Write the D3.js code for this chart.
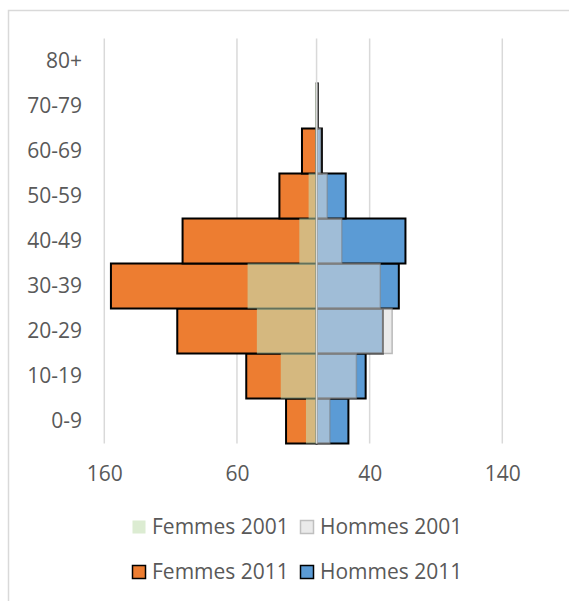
<!DOCTYPE html>
<html><head><meta charset="utf-8">
<script src="https://cdn.jsdelivr.net/npm/d3@7"></script>
<style>
html,body{margin:0;padding:0;background:#fff;}
svg{display:block;}
text{font-family:"Open Sans",sans-serif;fill:#595959;}
</style></head>
<body>
<svg id="chart" width="569" height="601"></svg>
<script>
const categories = ["0-9","10-19","20-29","30-39","40-49","50-59","60-69","70-79","80+"];
const femmes2011 = [23, 53, 105, 155, 101, 28, 11, 0, 0];
const femmes2001 = [8, 27, 45, 52, 13, 6, 1, 1, 0];
const hommes2011 = [24, 37, 50, 62, 67, 22, 4, 1, 0];
const hommes2001 = [10, 30, 57, 48, 19, 8, 3, 1, 0];
const tickValues = [-160, -60, 40, 140];
const legendLabels = ["Femmes 2001", "Hommes 2001", "Femmes 2011", "Hommes 2011"];

const svg = d3.select("#chart");
const FS = 21;

// outer frame
svg.append("rect").attr("x", 8.5).attr("y", 10.5).attr("width", 600).attr("height", 620)
  .attr("fill", "none").attr("stroke", "#D9D9D9").attr("stroke-width", 1.5);

const x = d3.scaleLinear().domain([-160, 140]).range([104.3, 502.3]);
const y = d3.scaleBand().domain(categories.slice().reverse()).range([38.5, 443.5]).padding(0);

// gridlines
svg.append("g").selectAll("line").data(tickValues).join("line")
  .attr("x1", d => x(d)).attr("x2", d => x(d))
  .attr("y1", 38.5).attr("y2", 443.5)
  .attr("stroke", "#D9D9D9").attr("stroke-width", 1.5);

// x tick labels
const xAxis = d3.axisBottom(x).tickValues(tickValues).tickFormat(d => Math.abs(d)).tickSize(0).tickPadding(0);
const gx = svg.append("g").attr("transform", "translate(0,474)").call(xAxis);
gx.select(".domain").remove();
gx.selectAll("text").attr("font-size", FS).attr("dy", "0.35em").attr("y", 0)
  .style("font-family", "'Open Sans',sans-serif").attr("fill", "#595959");

// y labels
const yAxis = d3.axisLeft(y).tickSize(0).tickPadding(0);
const gy = svg.append("g").attr("transform", "translate(82,0)").call(yAxis);
gy.select(".domain").remove();
gy.selectAll("text").attr("font-size", FS).attr("dy", "0.35em")
  .style("font-family", "'Open Sans',sans-serif").attr("fill", "#595959");

function bars(values, sign, fill, stroke, sw, opacity, strokeOpacity) {
  svg.append("g").selectAll("rect").data(values.map((v, i) => ({v, c: categories[i]}))).join("rect")
    .attr("x", d => sign < 0 ? x(-d.v) : x(0))
    .attr("width", d => Math.abs(x(d.v) - x(0)))
    .attr("y", d => y(d.c))
    .attr("height", y.bandwidth())
    .attr("fill", fill).attr("fill-opacity", opacity)
    .attr("stroke", stroke).attr("stroke-width", sw).attr("stroke-opacity", strokeOpacity);
}

// 2011 series (back, black borders)
bars(femmes2011, -1, "#ED7D31", "#000", 2, 1, 1);
bars(hommes2011, 1, "#5B9BD5", "#000", 2, 1, 1);
// 2001 series (translucent overlay)
bars(femmes2001, -1, "#C5E0B4", "none", 0, 0.6, 0);
bars(hommes2001, 1, "#D9D9D9", "#808080", 1.5, 0.55, 0.5);

// vertical category axis line at 0
svg.append("line").attr("x1", x(0)).attr("x2", x(0)).attr("y1", 38.5).attr("y2", 443.5)
  .attr("stroke", "#D9D9D9").attr("stroke-width", 1.5);

// legend
const legend = [
  {label: legendLabels[0], fill: "#C5E0B4", fo: 0.6, stroke: "none", sx: 132, sy: 520},
  {label: legendLabels[1], fill: "#D9D9D9", fo: 0.55, stroke: "#BFBFBF", sx: 300, sy: 520},
  {label: legendLabels[2], fill: "#ED7D31", fo: 1, stroke: "#000", sx: 132, sy: 565},
  {label: legendLabels[3], fill: "#5B9BD5", fo: 1, stroke: "#000", sx: 300, sy: 565}
];
const lg = svg.append("g").selectAll("g").data(legend).join("g");
lg.append("rect").attr("x", d => d.sx + 0.5).attr("y", d => d.sy + 0.5).attr("width", 13).attr("height", 13)
  .attr("fill", d => d.fill).attr("fill-opacity", d => d.fo)
  .attr("stroke", d => d.stroke).attr("stroke-width", d => d.stroke === "none" ? 0 : 1.5);
lg.append("text").attr("x", d => d.sx + 20).attr("y", d => d.sy + 7).attr("dy", "0.35em")
  .attr("font-size", FS).text(d => d.label);
</script>
</body></html>
